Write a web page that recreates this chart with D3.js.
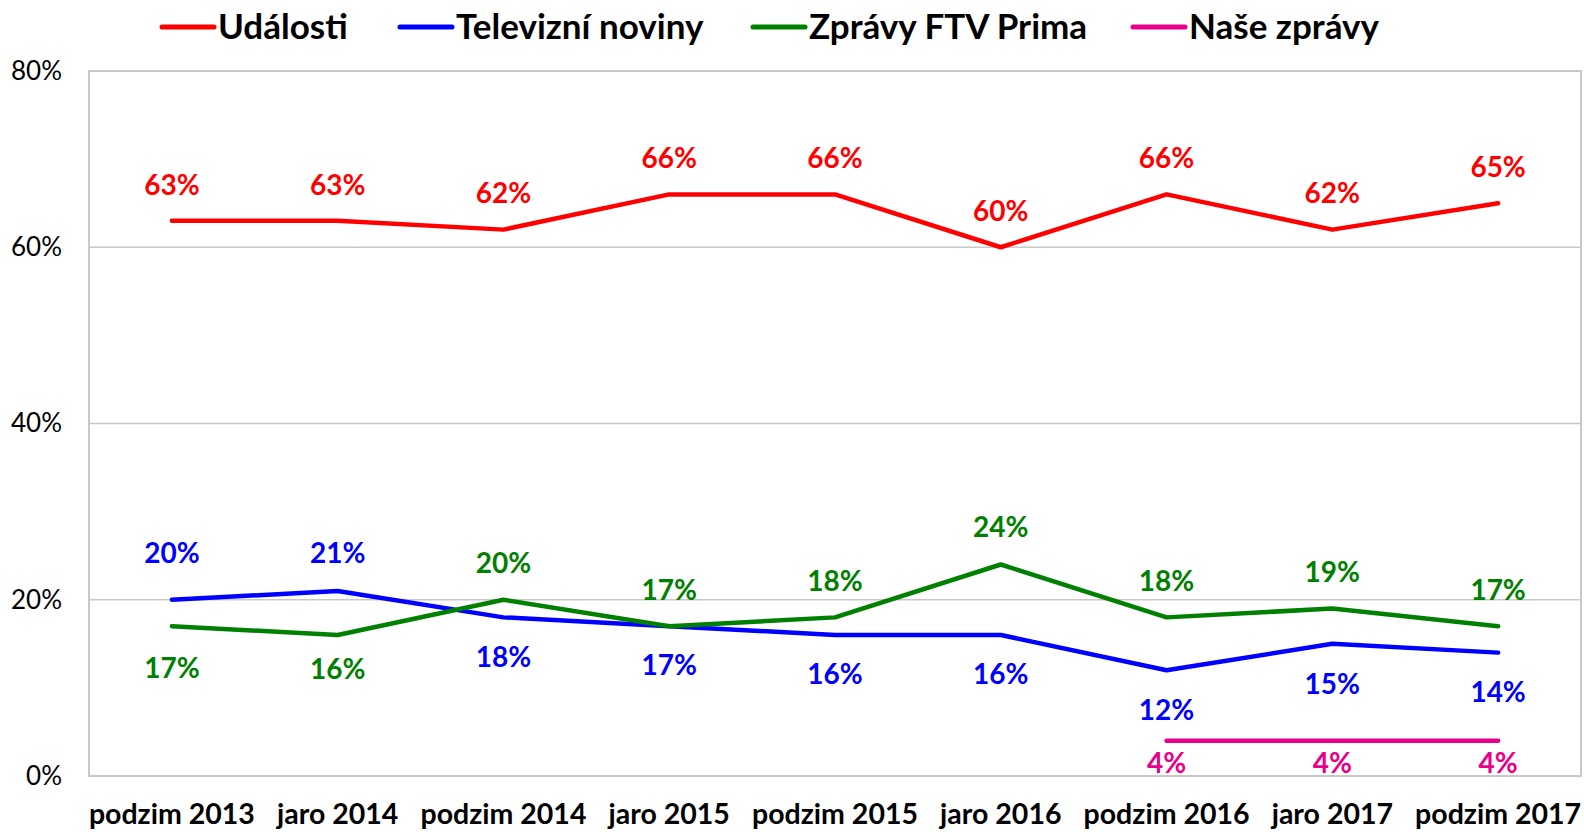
<!DOCTYPE html>
<html>
<head>
<meta charset="utf-8">
<script src="https://cdn.jsdelivr.net/npm/d3@7"></script>
<style>
  html, body { margin: 0; padding: 0; background: #fff; }
  svg { display: block; font-family: Lato, "Open Sans", sans-serif; }
</style>
</head>
<body>
<div id="chart"></div>
<script>
// data
const periods = ["podzim 2013", "jaro 2014", "podzim 2014", "jaro 2015", "podzim 2015", "jaro 2016", "podzim 2016", "jaro 2017", "podzim 2017"]
const udalosti = [63, 63, 62, 66, 66, 60, 66, 62, 65]
const televizni = [20, 21, 18, 17, 16, 16, 12, 15, 14]
const zpravyPrima = [17, 16, 20, 17, 18, 24, 18, 19, 17]
const naseZpravy = [null, null, null, null, null, null, 4, 4, 4]
const yTicks = [0, 20, 40, 60, 80]

// label offsets (px from the point) - excel had them hand placed
const series = [
	{ name: "Události", values: udalosti, color: "#ff0000", dy: [-36, -36, -36, -36, -36, -36, -36, -36, -36] },
	{ name: "Televizní noviny", values: televizni, color: "#0000ff", dy: [-47, -38, 40, 39, 39, 39, 40, 40, 40] },
	{ name: "Zprávy FTV Prima", values: zpravyPrima, color: "#008000", dy: [42, 34, -37, -36, -36, -37, -36, -36, -36] },
	{ name: "Naše zprávy", values: naseZpravy, color: "#e8008a", dy: [0, 0, 0, 0, 0, 0, 22, 22, 22] }
]

const width = 1584
const height = 832
const margin = { top: 71, right: 3, bottom: 56, left: 89 }

const svg = d3.select("#chart").append("svg")
	.attr("width", width)
	.attr("height", height)

const x = d3.scaleBand()
	.domain(periods)
	.range([margin.left, width - margin.right])

const y = d3.scaleLinear()
	.domain([0, 80])
	.range([height - margin.bottom, margin.top])

// gridlines
svg.append("g")
	.selectAll("line")
	.data(yTicks)
	.join("line")
	.attr("x1", margin.left)
	.attr("x2", width - margin.right)
	.attr("y1", d => y(d))
	.attr("y2", d => y(d))
	.attr("stroke", "#c8c8c8")
	.attr("stroke-width", 1.5)

// plot border
svg.append("rect")
	.attr("x", margin.left)
	.attr("y", margin.top)
	.attr("width", width - margin.left - margin.right)
	.attr("height", height - margin.top - margin.bottom)
	.attr("fill", "none")
	.attr("stroke", "#c8c8c8")
	.attr("stroke-width", 2)

// y axis
const yAxis = svg.append("g")
	.attr("transform", `translate(${margin.left},0)`)
	.call(d3.axisLeft(y).tickValues(yTicks).tickFormat(d => d + "%").tickSize(0).tickPadding(27))
yAxis.select(".domain").remove()
yAxis.selectAll("text")
	.attr("font-size", 26)
	.attr("font-family", "Lato, sans-serif")
	.attr("fill", "#000")

// x axis
const xAxis = svg.append("g")
	.attr("transform", `translate(0,${height - margin.bottom})`)
	.call(d3.axisBottom(x).tickSize(0).tickPadding(28))
xAxis.select(".domain").remove()
xAxis.selectAll("text")
	.attr("font-size", 28.5)
	.attr("font-weight", "bold")
	.attr("font-family", "Lato, sans-serif")
	.attr("fill", "#000")

const px = d => x(d) + x.bandwidth() / 2

const line = d3.line()
	.defined(d => d.v !== null)
	.x(d => px(d.p))
	.y(d => y(d.v))

series.forEach(s => {
	const pts = periods.map((p, i) => ({ p: p, v: s.values[i], dy: s.dy[i] }))
	svg.append("path")
		.datum(pts)
		.attr("d", line)
		.attr("fill", "none")
		.attr("stroke", s.color)
		.attr("stroke-width", 4.5)
		.attr("stroke-linejoin", "round")
		.attr("stroke-linecap", "round")

	svg.append("g")
		.selectAll("text")
		.data(pts.filter(d => d.v !== null))
		.join("text")
		.attr("x", d => px(d.p))
		.attr("y", d => y(d.v) + d.dy)
		.attr("dy", "0.35em")
		.attr("text-anchor", "middle")
		.attr("font-size", 28)
		.attr("font-weight", "bold")
		.attr("fill", s.color)
		.text(d => d.v + "%")
})

// legend
const legendX = [162, 400, 753, 1133]
const legend = svg.append("g")
	.selectAll("g")
	.data(series)
	.join("g")
	.attr("transform", (d, i) => `translate(${legendX[i]},27)`)
legend.append("line")
	.attr("x1", 0)
	.attr("x2", 52)
	.attr("stroke", d => d.color)
	.attr("stroke-width", 5)
	.attr("stroke-linecap", "round")
legend.append("text")
	.attr("x", 56)
	.attr("dy", "0.35em")
	.attr("font-size", 35)
	.attr("font-weight", "bold")
	.attr("fill", "#000")
	.text(d => d.name)
</script>
</body>
</html>
